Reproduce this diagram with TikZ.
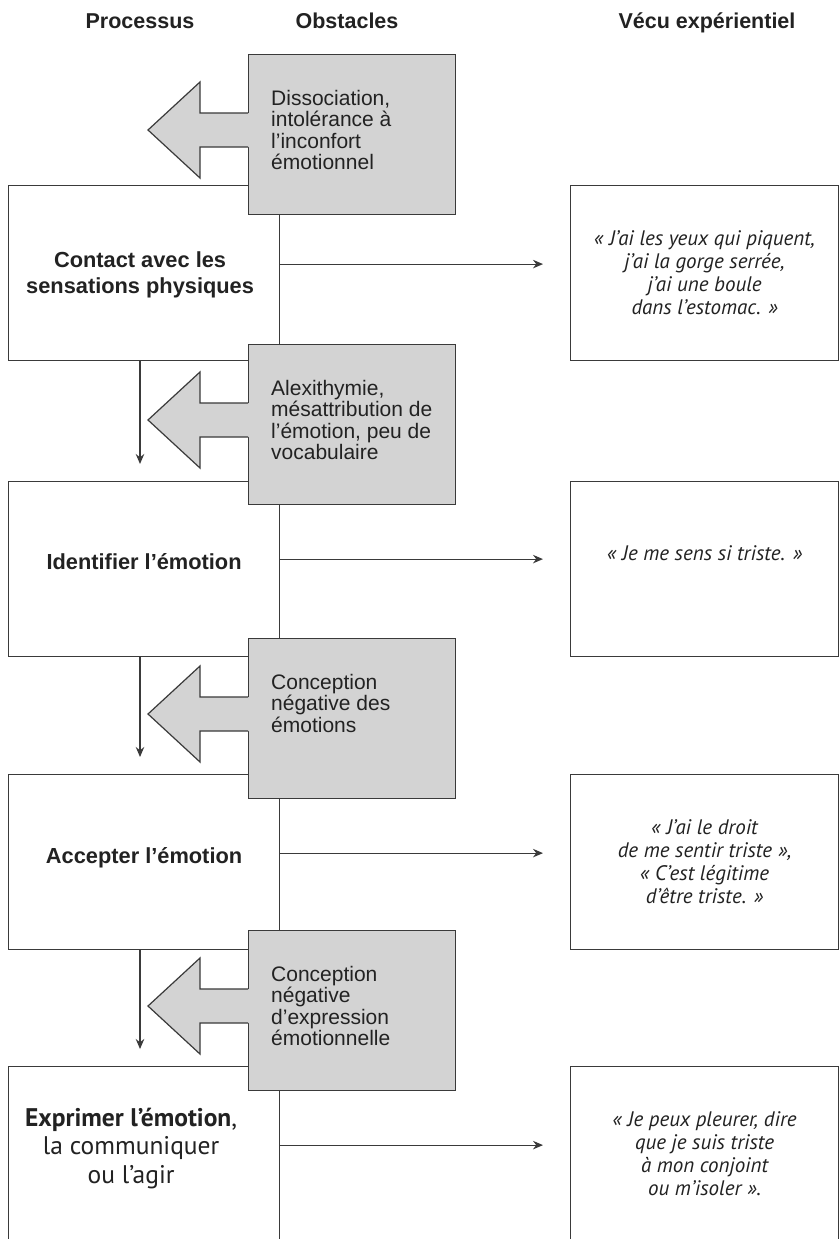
\documentclass[tikz,border=0pt]{standalone}
\usepackage{fontspec}
\setmainfont{Liberation Sans}
\newfontfamily\quotefont{PT Sans}
\usetikzlibrary{arrows.meta,calc}

\definecolor{edge}{HTML}{3A3A3A}
\definecolor{obsfill}{HTML}{D3D3D3}
\definecolor{ink}{HTML}{222222}

\tikzset{
  line/.style={draw=edge, line width=1.2pt},
  head/.style={font=\fontsize{21.5}{23}\selectfont\bfseries, text=ink, anchor=base, inner sep=0},
  procbox/.style={line, fill=white, anchor=north west, minimum width=271pt, minimum height=175pt, inner sep=0},
  proctext/.style={inner sep=0, align=center, text=ink, font=\fontsize{21.8}{25.5}\selectfont\bfseries},
  quotebox/.style={line, fill=white, anchor=north west, minimum width=268pt, minimum height=175pt,
    inner sep=0, align=center, text=ink, font=\quotefont\itshape\fontsize{21}{23}\selectfont},
  obsbox/.style={line, fill=obsfill, anchor=north west, minimum width=207pt, minimum height=160pt, inner sep=0},
  obstext/.style={anchor=north west, inner sep=0, align=left, text=ink,
    font=\fontsize{21}{21.4}\selectfont},
  flow/.style={line, -{Stealth[length=10pt,width=8.5pt]}},
}

% left-pointing block arrow leaving an obstacle box
\newcommand\blockarrow[1]{%
  \fill[obsfill] ($(#1.north west)+(1,59)$) -- ++(-49,0) -- ++(0,-31) -- ++(-52,48)
     -- ++(52,48) -- ++(0,-31) -- ++(49,0) -- cycle;
  \draw[line, line join=miter] ($(#1.north west)+(0,59)$) -- ++(-48,0) -- ++(0,-31) -- ++(-52,48)
     -- ++(52,48) -- ++(0,-31) -- ++(48,0);
}

\begin{document}
\begin{tikzpicture}[x=1pt,y=-1pt]
\useasboundingbox (0,0) rectangle (839,1239);
\clip (0,0) rectangle (839,1239);
\fill[white] (0,0) rectangle (839,1239);

% column headings
\node[head] (hproc) at (140,29) {Processus};
\node[head] (hobs)  at (347,29) {Obstacles};
\node[head] (hvecu) at (707,29) {Vécu expérientiel};

% process column
\node[procbox] (p1) at (8,185) {};
\node[procbox] (p2) at (8,481) {};
\node[procbox] (p3) at (8,774) {};
\node[procbox] (p4) at (8,1066) {};
\node[proctext] (p1t) at ($(p1.center)+(-4,2)$) {Contact avec les\\sensations physiques};
\node[proctext] (p2t) at ($(p2.center)+(0,-7)$) {Identifier l'émotion};
\node[proctext] (p3t) at ($(p3.center)+(0,-4)$) {Accepter l'émotion};
\node[proctext, font=\quotefont\fontsize{25.5}{28.5}\selectfont] (p4t) at ($(p4.center)+(-13,-6)$)
  {\textbf{Exprimer l’émotion},\\la communiquer\\ou l’agir};

% lived experience column
\node[quotebox] (q1) at (570,185) {« J’ai les yeux qui piquent,\\j’ai la gorge serrée,\\j’ai une boule\\dans l’estomac. »};
\node[quotebox] (q2) at (570,481) {« Je me sens si triste. »\\[10pt]};
\node[quotebox] (q3) at (570,774) {« J’ai le droit\\de me sentir triste »,\\« C’est légitime\\d’être triste. »};
\node[quotebox] (q4) at (570,1066) {« Je peux pleurer, dire\\que je suis triste\\à mon conjoint\\ou m’isoler ».};

% obstacles
\node[obsbox] (o1) at (248,54) {};
\node[obsbox] (o2) at (248,344) {};
\node[obsbox] (o3) at (248,638) {};
\node[obsbox] (o4) at (248,930) {};
\blockarrow{o1}
\blockarrow{o2}
\blockarrow{o3}
\blockarrow{o4}
\node[obstext] (t1) at ($(o1.north west)+(23,36)$) {Dissociation,\\intolérance à\\l'inconfort\\émotionnel};
\node[obstext] (t2) at ($(o2.north west)+(23,36)$) {Alexithymie,\\mésattribution de\\l'émotion, peu de\\vocabulaire};
\node[obstext] (t3) at ($(o3.north west)+(23,36)$) {Conception\\négative des\\émotions};
\node[obstext] (t4) at ($(o4.north west)+(23,36)$) {Conception\\négative\\d'expression\\émotionnelle};

% flow between process steps
\draw[flow] ($(p1.south west)+(132,0)$) -- ($(p2.north west)+(132,-17)$);
\draw[flow] ($(p2.south west)+(132,0)$) -- ($(p3.north west)+(132,-17)$);
\draw[flow] ($(p3.south west)+(132,0)$) -- ($(p4.north west)+(132,-17)$);

% from each step to what is lived
\draw[flow] ($(p1.east)+(0,-9)$) -- ($(p1.east -| q1.west)+(-27,-9)$);
\draw[flow] ($(p2.east)+(0,-10)$) -- ($(p2.east -| q2.west)+(-27,-10)$);
\draw[flow] ($(p3.east)+(0,-9)$) -- ($(p3.east -| q3.west)+(-27,-9)$);
\draw[flow] ($(p4.east)+(0,-9)$) -- ($(p4.east -| q4.west)+(-27,-9)$);
\end{tikzpicture}
\end{document}
